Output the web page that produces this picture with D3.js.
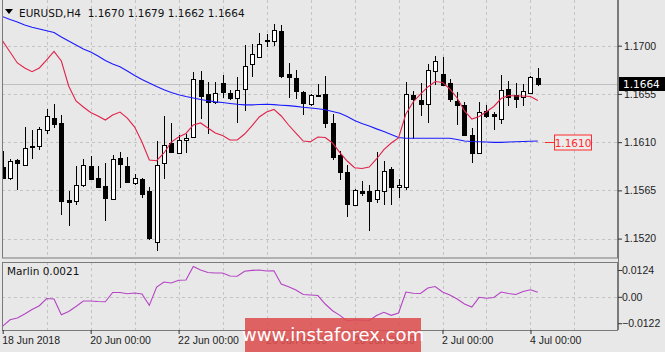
<!DOCTYPE html>
<html>
<head>
<meta charset="utf-8">
<script src="https://cdn.jsdelivr.net/npm/d3@7"></script>
<style>
  body { margin: 0; background: #e8e8e8; }
  svg { display: block; font-family: 'DejaVu Sans', sans-serif; }
  .eje text { font-size: 10.5px; fill: #222; }
</style>
</head>
<body>
<div id="graf"></div>
<script>
// I. Datos
simbolo = 'EURUSD,H4'
ohlcTitulo = ['1.1670', '1.1679', '1.1662', '1.1664']

aperturas = [1.1587, 1.1576, 1.1593, 1.1589, 1.1606, 1.1606, 1.1621, 1.1633, 1.1628, 1.1556,
             1.1555, 1.1570, 1.1588, 1.1577, 1.1569, 1.1557, 1.1595, 1.1588, 1.1572, 1.1576,
             1.1564, 1.1517, 1.1590, 1.1609, 1.1600, 1.1612, 1.1615, 1.1668, 1.1655, 1.1648,
             1.1665, 1.1656, 1.1652, 1.1660, 1.1683, 1.1690, 1.1704, 1.1705, 1.1714, 1.1674,
             1.1670, 1.1657, 1.1646, 1.1654, 1.1655, 1.1628, 1.1598, 1.1582, 1.1551, 1.1564,
             1.1564, 1.1557, 1.1564, 1.1585, 1.1568, 1.1568, 1.1654, 1.1649, 1.1645, 1.1677,
             1.1674, 1.1665, 1.1648, 1.1645, 1.1617, 1.1600, 1.1639, 1.1636, 1.1632, 1.1660,
             1.1654, 1.1652, 1.1656, 1.1670]
maximos = [1.1602, 1.1594, 1.1594, 1.1624, 1.1621, 1.1624, 1.1641, 1.1646, 1.1635, 1.1564,
           1.1588, 1.1594, 1.1597, 1.1588, 1.1591, 1.1598, 1.1601, 1.1596, 1.1580, 1.1577,
           1.1568, 1.1611, 1.1634, 1.1628, 1.1617, 1.1618, 1.1675, 1.1676, 1.1666, 1.1666,
           1.1673, 1.1659, 1.1671, 1.1701, 1.1702, 1.1712, 1.1711, 1.1720, 1.1719, 1.1684,
           1.1677, 1.1658, 1.1655, 1.1664, 1.1672, 1.1636, 1.1602, 1.1589, 1.1566, 1.1574,
           1.1570, 1.1601, 1.1592, 1.1587, 1.1576, 1.1666, 1.1658, 1.1665, 1.1683, 1.1690,
           1.1689, 1.1669, 1.1657, 1.1647, 1.1623, 1.1647, 1.1645, 1.1638, 1.1673, 1.1667,
           1.1665, 1.1664, 1.1672, 1.1679]
minimos = [1.1576, 1.1575, 1.1565, 1.1588, 1.1594, 1.1603, 1.1618, 1.1623, 1.1542, 1.1532,
           1.1551, 1.1568, 1.1575, 1.1567, 1.1536, 1.1556, 1.1567, 1.1572, 1.1570, 1.1558,
           1.1519, 1.1508, 1.1576, 1.1600, 1.1599, 1.1600, 1.1614, 1.1632, 1.1618, 1.1646,
           1.1651, 1.1649, 1.1628, 1.1639, 1.1671, 1.1689, 1.1699, 1.1700, 1.1670, 1.1651,
           1.1650, 1.1635, 1.1644, 1.1652, 1.1623, 1.1593, 1.1575, 1.1540, 1.1550, 1.1560,
           1.1527, 1.1553, 1.1551, 1.1551, 1.1558, 1.1565, 1.1613, 1.1634, 1.1628, 1.1663,
           1.1663, 1.1647, 1.1626, 1.1616, 1.1591, 1.1599, 1.1633, 1.1621, 1.1627, 1.1644,
           1.1642, 1.1644, 1.1655, 1.1662]
cierres = [1.1577, 1.1592, 1.1590, 1.1605, 1.1605, 1.1622, 1.1634, 1.1627, 1.1555, 1.1554,
           1.1570, 1.1589, 1.1576, 1.1569, 1.1558, 1.1594, 1.1589, 1.1573, 1.1577, 1.1562,
           1.1520, 1.1589, 1.1607, 1.1601, 1.1612, 1.1614, 1.1669, 1.1653, 1.1648, 1.1656,
           1.1657, 1.1651, 1.1659, 1.1681, 1.1692, 1.1702, 1.1705, 1.1715, 1.1672, 1.1671,
           1.1658, 1.1647, 1.1654, 1.1653, 1.1628, 1.1596, 1.1582, 1.1552, 1.1565, 1.1562,
           1.1555, 1.1565, 1.1583, 1.1568, 1.1570, 1.1655, 1.1650, 1.1645, 1.1677, 1.1686,
           1.1664, 1.1650, 1.1644, 1.1617, 1.1600, 1.1638, 1.1634, 1.1634, 1.1659, 1.1653,
           1.1650, 1.1658, 1.1671, 1.1664]

// media móvil rápida (roja) y lenta (azul)
mediaRapida = [1.17044, 1.16941, 1.16839, 1.16792, 1.16757, 1.16792, 1.16867, 1.16946, 1.16857, 1.16624,
               1.16484, 1.16428, 1.16377, 1.16344, 1.16306, 1.16353, 1.16381, 1.16325, 1.16241, 1.16101,
               1.15933, 1.15927, 1.15999, 1.16101, 1.16148, 1.16181, 1.16260, 1.16279, 1.16232, 1.16185,
               1.16162, 1.16120, 1.16120, 1.16176, 1.16251, 1.16335, 1.16381, 1.16405, 1.16344, 1.16260,
               1.16185, 1.16110, 1.16104, 1.16148, 1.16143, 1.16092, 1.16003, 1.15924, 1.15861, 1.15854,
               1.15868, 1.15943, 1.16031, 1.16092, 1.16139, 1.16363, 1.16475, 1.16549, 1.16615, 1.16666,
               1.16657, 1.16596, 1.16512, 1.16391, 1.16316, 1.16339, 1.16384, 1.16433, 1.16507, 1.16535,
               1.16531, 1.16531, 1.16526, 1.16489]
mediaLenta = [1.17271, 1.17245, 1.17221, 1.17193, 1.17172, 1.17156, 1.17140, 1.17123, 1.17081, 1.17044,
              1.17007, 1.16969, 1.16941, 1.16904, 1.16862, 1.16829, 1.16804, 1.16764, 1.16722, 1.16685,
              1.16652, 1.16619, 1.16588, 1.16563, 1.16542, 1.16526, 1.16512, 1.16498, 1.16486, 1.16476,
              1.16470, 1.16461, 1.16453, 1.16448, 1.16448, 1.16451, 1.16453, 1.16450, 1.16445, 1.16441,
              1.16434, 1.16425, 1.16419, 1.16411, 1.16402, 1.16386, 1.16369, 1.16339, 1.16302, 1.16274,
              1.16251, 1.16224, 1.16199, 1.16171, 1.16143, 1.16137, 1.16136, 1.16136, 1.16136, 1.16136,
              1.16136, 1.16136, 1.16125, 1.16111, 1.16106, 1.16104, 1.16101, 1.16098, 1.16098, 1.16101,
              1.16104, 1.16106, 1.16108, 1.16111]

// indicador Marlin (panel inferior)
marlin = [-0.01352, -0.01060, -0.00981, -0.00796, -0.00588, -0.00412, -0.00079, -0.00102, -0.00829, -0.00681,
          -0.00449, -0.00194, -0.00194, -0.00218, -0.00227, 0.00199, 0.00199, 0.00144, 0.00176, 0.00130,
          -0.00394, 0.00454, 0.00685, 0.00639, 0.00764, 0.00778, 0.01403, 0.01241, 0.01125, 0.01102,
          0.01102, 0.00963, 0.00949, 0.01185, 0.01222, 0.01241, 0.01194, 0.01208, 0.00593, 0.00468,
          0.00315, 0.00106, 0.00083, 0.00060, -0.00333, -0.00644, -0.00856, -0.01120, -0.01060, -0.01083,
          -0.01097, -0.00866, -0.00713, -0.00856, -0.00750, 0.00222, 0.00167, 0.00153, 0.00407, 0.00477,
          0.00222, 0.00083, -0.00102, -0.00333, -0.00472, -0.00023, -0.00069, -0.00032, 0.00222, 0.00153,
          0.00106, 0.00245, 0.00329, 0.00210]

etiquetasX = ['18 Jun 2018', '20 Jun 00:00', '22 Jun 00:00', '26 Jun 00:00', '28 Jun 00:00', '2 Jul 00:00', '4 Jul 00:00']
barrasEtiquetas = [0, 12, 24, 36, 48, 60, 72]
nivelesPrecio = [1.1520, 1.1565, 1.1610, 1.1655, 1.1700]
nivelesMarlin = [0.0124, 0.00, -0.0122]
precioActual = 1.1664
valorMediaLenta = 1.1610
valorMarlin = '0.0021'

// II. Configuración
ancho_total = 665
alto_total = 352
panel = { left: 2, right: 617, top: 0, bottom: 258 }
panelInd = { top: 262, bottom: 330 }

svg = d3.select('#graf').append('svg')
        .attr('width', ancho_total)
        .attr('height', alto_total)

svg.append('rect')
   .attr('width', ancho_total).attr('height', alto_total)
   .attr('fill', '#e8e8e8')

// escaladores
x = d3.scaleLinear()
      .domain([0, 73])
      .range([2.7, 537.8])

y = d3.scaleLinear()
      .domain([1.1520, 1.1700])
      .range([238.6, 45.7])

yM = d3.scaleLinear()
       .domain([-0.0122, 0.0124])
       .range([323.2, 270])

cx = i => Math.round(x(i)) + 0.5
cy = v => Math.round(v) + 0.5

// III. Rejilla
gris = '#c4c4c4'
barrasRejilla = d3.range(6, 84, 6)

rejilla = svg.append('g').attr('stroke', gris).attr('stroke-dasharray', '3,3')
rejilla.selectAll('line.v')
       .data(barrasRejilla)
       .enter().append('line')
       .attr('x1', d => cx(d)).attr('x2', d => cx(d))
       .attr('y1', panel.top).attr('y2', panel.bottom)
rejilla.selectAll('line.vi')
       .data(barrasRejilla)
       .enter().append('line')
       .attr('x1', d => cx(d)).attr('x2', d => cx(d))
       .attr('y1', panelInd.top).attr('y2', panelInd.bottom)
rejilla.selectAll('line.h')
       .data(nivelesPrecio)
       .enter().append('line')
       .attr('x1', panel.left).attr('x2', panel.right)
       .attr('y1', d => cy(y(d))).attr('y2', d => cy(y(d)))
rejilla.append('line')
       .attr('x1', panel.left).attr('x2', panel.right)
       .attr('y1', cy(yM(0))).attr('y2', cy(yM(0)))

// línea del precio actual
svg.append('line')
   .attr('x1', panel.left).attr('x2', panel.right)
   .attr('y1', cy(y(precioActual))).attr('y2', cy(y(precioActual)))
   .attr('stroke', '#c0c0c0')

// IV. Velas
svg.append('clipPath').attr('id', 'recorte')
   .append('rect')
   .attr('x', panel.left + 1).attr('y', panel.top)
   .attr('width', panel.right - panel.left - 1)
   .attr('height', panel.bottom - panel.top)

g = svg.append('g').attr('clip-path', 'url(#recorte)')

velas = aperturas.map((o, i) => ({ i: i, o: o, h: maximos[i], l: minimos[i], c: cierres[i] }))

g.selectAll('line.mecha')
 .data(velas)
 .enter().append('line')
 .attr('x1', d => cx(d.i)).attr('x2', d => cx(d.i))
 .attr('y1', d => Math.round(y(d.h))).attr('y2', d => Math.round(y(d.l)))
 .attr('stroke', '#000')

g.selectAll('rect.cuerpo')
 .data(velas)
 .enter().append('rect')
 .attr('x', d => cx(d.i) - 2)
 .attr('y', d => cy(y(Math.max(d.o, d.c))))
 .attr('width', 4)
 .attr('height', d => Math.max(0.001, Math.round(Math.abs(y(d.o) - y(d.c)))))
 .attr('fill', d => d.c >= d.o ? '#fff' : '#000')
 .attr('stroke', '#000')

// medias móviles
linea = d3.line().x((d, i) => x(i)).y(d => y(d))
g.append('path').datum(mediaLenta)
 .attr('d', linea).attr('fill', 'none').attr('stroke', '#1a1aff').attr('stroke-width', 1.1)
g.append('path').datum(mediaRapida)
 .attr('d', linea).attr('fill', 'none').attr('stroke', '#e0224a').attr('stroke-width', 1.1)

// etiqueta de la media lenta
rojo = '#ff2a2a'
yML = cy(y(valorMediaLenta))
svg.append('line')
   .attr('x1', 545).attr('x2', 554).attr('y1', yML).attr('y2', yML)
   .attr('stroke', rojo)
svg.append('rect')
   .attr('x', 554.5).attr('y', yML - 7.5).attr('width', 37).attr('height', 15)
   .attr('fill', '#ececec').attr('stroke', rojo)
svg.append('text')
   .attr('x', 573).attr('y', yML + 4)
   .attr('text-anchor', 'middle')
   .style('font-size', '10.5px').attr('fill', rojo)
   .text(d3.format('.4f')(valorMediaLenta))

// V. Panel Marlin
lineaM = d3.line().x((d, i) => x(i)).y(d => yM(d))
svg.append('path').datum(marlin)
   .attr('d', lineaM).attr('fill', 'none').attr('stroke', '#b444c4').attr('stroke-width', 1.1)

// VI. Marcos y ejes
marco = svg.append('g').attr('fill', 'none').attr('stroke', '#7a7a7a')
marco.append('rect')
     .attr('x', panel.left + 0.5).attr('y', panel.top - 1)
     .attr('width', panel.right - panel.left).attr('height', panel.bottom - panel.top + 1)
marco.append('rect')
     .attr('x', panel.left + 0.5).attr('y', panelInd.top + 0.5)
     .attr('width', panel.right - panel.left).attr('height', panelInd.bottom - panelInd.top)
marco.append('line')
     .attr('x1', panel.right + 1.5).attr('x2', panel.right + 1.5)
     .attr('y1', 0).attr('y2', panelInd.bottom)

yAxisGroup = svg.append('g')
                .attr('class', 'eje')
                .attr('transform', `translate(${ panel.right + 1 }, 0)`)
yAxisCall = d3.axisRight(y)
              .tickValues(nivelesPrecio)
              .tickSize(4)
              .tickPadding(2)
              .tickFormat(d3.format('.4f'))
yAxisGroup.call(yAxisCall)

yMAxisGroup = svg.append('g')
                 .attr('class', 'eje')
                 .attr('transform', `translate(${ panel.right + 1 }, 0)`)
yMAxisCall = d3.axisRight(yM)
               .tickValues(nivelesMarlin)
               .tickSize(4)
               .tickPadding(0)
               .tickFormat(d => d === 0 ? '0.00' : d3.format('.4f')(d))
yMAxisGroup.call(yMAxisCall)

xAxisGroup = svg.append('g')
                .attr('class', 'eje')
                .attr('transform', `translate(0, ${ panelInd.bottom })`)
xAxisCall = d3.axisBottom(x)
              .tickValues(barrasEtiquetas)
              .tickSize(4)
              .tickFormat((d, i) => etiquetasX[i])
xAxisGroup.call(xAxisCall)
xAxisGroup.selectAll('text')
          .attr('text-anchor', 'start')
          .attr('x', -1)
          .attr('y', 7)

svg.selectAll('.eje path.domain').remove()
svg.selectAll('.eje line').attr('stroke', '#333')

// precio actual en el eje
yPA = Math.round(y(precioActual))
svg.append('rect')
   .attr('x', panel.right + 2).attr('y', yPA - 7).attr('width', 46).attr('height', 14)
   .attr('fill', '#000')
svg.append('text')
   .attr('x', panel.right + 6).attr('y', yPA + 4)
   .style('font-size', '10.5px').attr('fill', '#fff')
   .text(d3.format('.4f')(precioActual))

// títulos
svg.append('path')
   .attr('d', 'M5,9 L13,9 L9,14 Z')
   .attr('fill', '#000')
svg.append('text')
   .attr('x', 19).attr('y', 17)
   .style('font-size', '10.5px').attr('fill', '#111')
   .style('white-space', 'pre')
   .text(`${ simbolo }  ${ ohlcTitulo.join(' ') }`)

svg.append('text')
   .attr('x', 7).attr('y', 275)
   .style('font-size', '10.5px').attr('fill', '#111')
   .text(`Marlin ${ valorMarlin }`)

// marca de agua
svg.append('rect')
   .attr('x', 245).attr('y', 318).attr('width', 176).attr('height', 34)
   .attr('fill', '#dd4f4f').attr('opacity', 0.88)
svg.append('text')
   .attr('x', 333).attr('y', 341)
   .attr('text-anchor', 'middle')
   .style('font-size', '18px').attr('fill', '#fff')
   .text('www.instaforex.com')
</script>
</body>
</html>
